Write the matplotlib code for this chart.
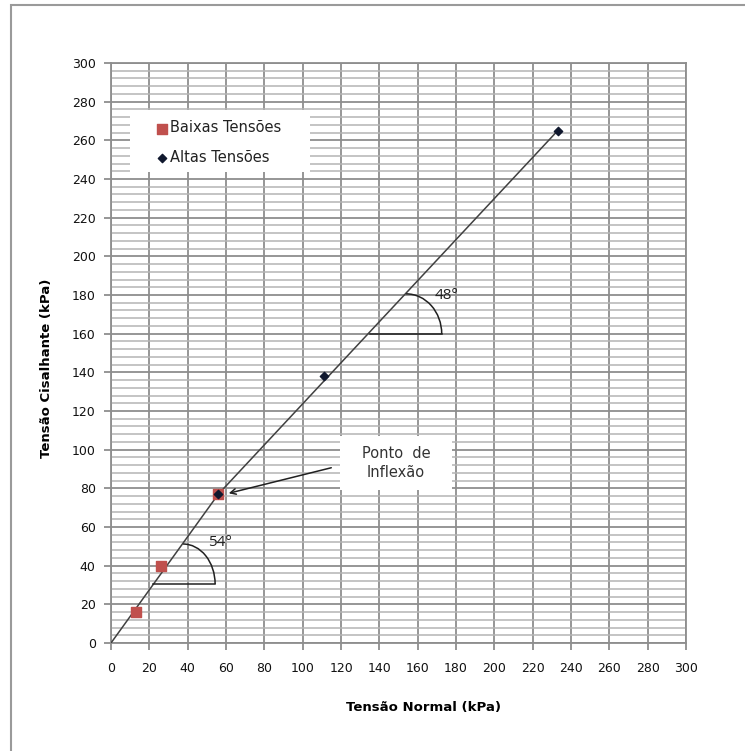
import matplotlib.pyplot as plt
from matplotlib.patches import Arc, Rectangle
from matplotlib.ticker import MultipleLocator

plt.rcParams['font.family'] = ['DejaVu Sans']

# data
baixas_x = [13, 26, 56]
baixas_y = [16, 40, 77]
altas_x = [56, 111, 233]
altas_y = [77, 138, 265]
trend_x = [0, 56, 233]
trend_y = [0, 77, 265]

fig = plt.figure(figsize=(7.45, 7.51), dpi=100)
fig.patches.append(Rectangle((11 / 745, -0.1), 1.2, 1 - 5 / 751 + 0.1, transform=fig.transFigure,
                             fill=False, edgecolor='#9a9a9a', linewidth=1.5))
ax = fig.add_axes([0.149, 0.1438, 0.772, 0.7723])

ax.set_xlim(0, 300)
ax.set_ylim(0, 300)
ax.xaxis.set_major_locator(MultipleLocator(20))
ax.yaxis.set_major_locator(MultipleLocator(20))
ax.yaxis.set_minor_locator(MultipleLocator(4))
ax.grid(which='major', color='#8e8e8e', linewidth=1.3)
ax.grid(which='minor', axis='y', color='#b4b4b4', linewidth=1.1)
ax.tick_params(which='major', length=5, width=1.3, color='#8e8e8e', labelsize=9, labelcolor='#111111')
ax.tick_params(axis='x', pad=9)
ax.tick_params(axis='y', pad=6)
ax.tick_params(which='minor', length=0)
for s in ax.spines.values():
    s.set_color('#8e8e8e')
    s.set_linewidth(1.3)
ax.set_axisbelow(True)

ax.plot(trend_x, trend_y, color='#404040', linewidth=1.1, zorder=3)
ax.scatter(baixas_x, baixas_y, marker='s', s=55, color='#c0504d', zorder=4, label='Baixas Tensões')
ax.scatter(altas_x, altas_y, marker='D', s=18, color='#10182e', zorder=5, label='Altas Tensões')

# angle markers
ax.plot([21.9, 54.3], [30.5, 30.5], color='#202020', linewidth=1.1, zorder=3)
ax.add_patch(Arc((37.6, 30.5), 2 * 16.7, 2 * 20.7, theta1=0, theta2=90, color='#202020', linewidth=1.1, zorder=3))
ax.text(57, 52, '54°', fontsize=11, family='Open Sans', color='#202020', ha='center', va='center')

ax.plot([135.1, 172.5], [159.9, 159.9], color='#202020', linewidth=1.1, zorder=3)
ax.add_patch(Arc((153.9, 159.9), 2 * 18.6, 2 * 20.7, theta1=0, theta2=90, color='#202020', linewidth=1.1, zorder=3))
ax.text(175, 180, '48°', fontsize=11, family='Open Sans', color='#202020', ha='center', va='center')

# inflection point note
ax.add_patch(Rectangle((119.5, 79.1), 58.4, 28, facecolor='white', edgecolor='none', zorder=3))
ax.text(148.7, 93, 'Ponto  de\nInflexão', fontsize=10.5, color='#333333', ha='center', va='center',
        linespacing=1.3, zorder=4)
ax.annotate('', xy=(60, 77.1), xytext=(116.3, 91),
            arrowprops=dict(arrowstyle='->', color='#202020', linewidth=1.1), zorder=4)

# legend on a plain white box
ax.add_patch(Rectangle((9.9, 243.7), 93.9, 32, facecolor='white', edgecolor='none', zorder=3))
leg = ax.legend(loc='upper left', bbox_to_anchor=(0.0765, 0.901), fontsize=10.5, frameon=False,
                handletextpad=0.0, handlelength=1.0, borderpad=0, labelspacing=1.02, borderaxespad=0)
for t in leg.get_texts():
    t.set_color('#222222')

ax.set_xlabel('Tensão Normal (kPa)', fontsize=9.5, fontweight='bold')
ax.xaxis.set_label_coords(0.543, -0.112)
ax.xaxis.label.set_va('center')
ax.set_ylabel('Tensão Cisalhante (kPa)', fontsize=9.5, fontweight='bold')
ax.yaxis.set_label_coords(-0.113, 0.474)
ax.yaxis.label.set_va('center')

fig.savefig('out.png', dpi=100)
